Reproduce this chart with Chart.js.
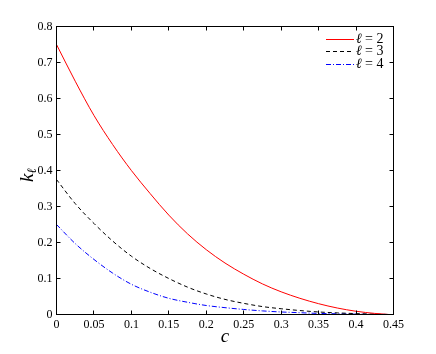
<!DOCTYPE html>
<html><head><meta charset="utf-8">
<script src="https://cdn.jsdelivr.net/npm/chart.js@4/dist/chart.umd.min.js"></script>
<style>html,body{margin:0;padding:0;background:#fff;}#wrap{width:436px;height:354px;}</style>
</head><body><div id="wrap"><canvas id="c" width="436" height="354"></canvas></div>
<script>
// ---- data ----
const cValues  = [0, 0.025, 0.05, 0.075, 0.1, 0.125, 0.15, 0.175, 0.2, 0.225, 0.25, 0.275, 0.3, 0.325, 0.35, 0.375, 0.4, 0.425, 0.444];
const k2Values = [0.75, 0.648, 0.553, 0.472, 0.40, 0.336, 0.276, 0.224, 0.18, 0.143, 0.112, 0.085, 0.063, 0.045, 0.030, 0.018, 0.009, 0.003, 0];
const k3Values = [0.375, 0.308, 0.253, 0.204, 0.162, 0.128, 0.100, 0.076, 0.057, 0.042, 0.031, 0.022, 0.016, 0.011, 0.007, 0.0045, 0.0025, 0.001, 0];
const k4Values = [0.25, 0.197, 0.153, 0.115, 0.084, 0.062, 0.045, 0.034, 0.025, 0.019, 0.014, 0.010, 0.007, 0.005, 0.003, 0.002, 0.001, 0.0005, 0];
const ellValues = ['2', '3', '4'];
const xTicks = [0, 0.05, 0.1, 0.15, 0.2, 0.25, 0.3, 0.35, 0.4, 0.45];
const yTicks = [0, 0.1, 0.2, 0.3, 0.4, 0.5, 0.6, 0.7, 0.8];
const xTitle = 'c';
const yTitleMain = 'k';
const yTitleSub = 'ℓ';
const lineColors = ['#ff0000', '#000000', '#0000ff'];
const lineDashes = [[], [4, 3], [5, 2, 1, 2]];

const SERIF = "'Liberation Serif', serif";
const toPts = (ys) => cValues.map((c, i) => ({x: c, y: ys[i]}));

const decor = {
  id: 'decor',
  afterDatasetsDraw(chart) {
    const ctx = chart.ctx, a = chart.chartArea, xs = chart.scales.x, ys = chart.scales.y;
    ctx.save();
    ctx.strokeStyle = '#000'; ctx.lineWidth = 1; ctx.setLineDash([]);
    ctx.beginPath();
    xTicks.forEach(v => {
      const x = Math.floor(xs.getPixelForValue(v)) + 0.5;
      ctx.moveTo(x, a.bottom); ctx.lineTo(x, a.bottom - 4);
      ctx.moveTo(x, a.top); ctx.lineTo(x, a.top + 4);
    });
    yTicks.forEach(v => {
      const y = Math.floor(ys.getPixelForValue(v)) + 0.5;
      ctx.moveTo(a.left, y); ctx.lineTo(a.left + 4, y);
      ctx.moveTo(a.right, y); ctx.lineTo(a.right - 4, y);
    });
    ctx.stroke();
    ctx.strokeRect(a.left, a.top, a.right - a.left, a.bottom - a.top);

    // legend
    ellValues.forEach((ell, i) => {
      const y = 39 + i * 12.5;
      const ly = Math.floor(y) + 0.5;
      ctx.save();
      ctx.beginPath();
      ctx.strokeStyle = lineColors[i]; ctx.lineWidth = 1;
      ctx.setLineDash(lineDashes[i]);
      ctx.moveTo(326, ly); ctx.lineTo(354, ly); ctx.stroke();
      ctx.restore();
      ctx.fillStyle = '#000';
      ctx.textAlign = 'left';
      ctx.textBaseline = 'middle';
      ctx.font = 'italic 14px ' + SERIF;
      ctx.fillText('ℓ', 356, y);
      ctx.font = '14px ' + SERIF;
      ctx.fillText('= ' + ell, 365, y);
    });

    // x title
    ctx.fillStyle = '#000';
    ctx.textAlign = 'center'; ctx.textBaseline = 'alphabetic';
    ctx.font = 'italic 19px ' + SERIF;
    ctx.fillText(xTitle, (a.left + a.right) / 2, 342);

    // y title with subscript
    ctx.save();
    ctx.translate(33, 175);
    ctx.rotate(-Math.PI / 2);
    ctx.font = 'italic 19px ' + SERIF;
    const wk = ctx.measureText(yTitleMain).width;
    ctx.font = 'italic 13px ' + SERIF;
    const ws = ctx.measureText(yTitleSub).width;
    const x0 = -(wk + ws) / 2;
    ctx.textAlign = 'left';
    ctx.font = 'italic 19px ' + SERIF;
    ctx.fillText(yTitleMain, x0, 0);
    ctx.font = 'italic 13px ' + SERIF;
    ctx.fillText(yTitleSub, x0 + wk, 3);
    ctx.restore();
    ctx.restore();
  }
};

new Chart(document.getElementById('c'), {
  type: 'line',
  data: {
    datasets: [k2Values, k3Values, k4Values].map((vals, i) => ({
      label: 'ℓ = ' + ellValues[i], data: toPts(vals), borderColor: lineColors[i], borderWidth: 1,
      borderDash: lineDashes[i], pointRadius: 0, fill: false, cubicInterpolationMode: 'monotone'
    }))
  },
  options: {
    responsive: false, animation: false, devicePixelRatio: 1,
    layout: {padding: {left: 0, right: 42.5, top: 26.5, bottom: 0}},
    plugins: {legend: {display: false}, tooltip: {enabled: false}},
    scales: {
      x: {
        type: 'linear', min: 0, max: 0.45,
        grid: {display: false, drawTicks: false},
        border: {display: false},
        afterBuildTicks(s) { s.ticks = xTicks.map(v => ({value: v})); },
        afterFit(s) { s.height = 39.5; s.paddingLeft = 0; s.paddingRight = 0; },
        ticks: {color: '#000', font: {family: SERIF, size: 12}, padding: 3, maxRotation: 0, autoSkip: false, callback: v => String(v)}
      },
      y: {
        type: 'linear', min: 0, max: 0.8,
        grid: {display: false, drawTicks: false},
        border: {display: false},
        afterBuildTicks(s) { s.ticks = yTicks.map(v => ({value: v})); },
        afterFit(s) { s.width = 56.5; s.paddingTop = 0; s.paddingBottom = 0; },
        ticks: {color: '#000', font: {family: SERIF, size: 12}, padding: 4, autoSkip: false, callback: v => String(v)}
      }
    }
  },
  plugins: [decor]
});
</script>
</body></html>
